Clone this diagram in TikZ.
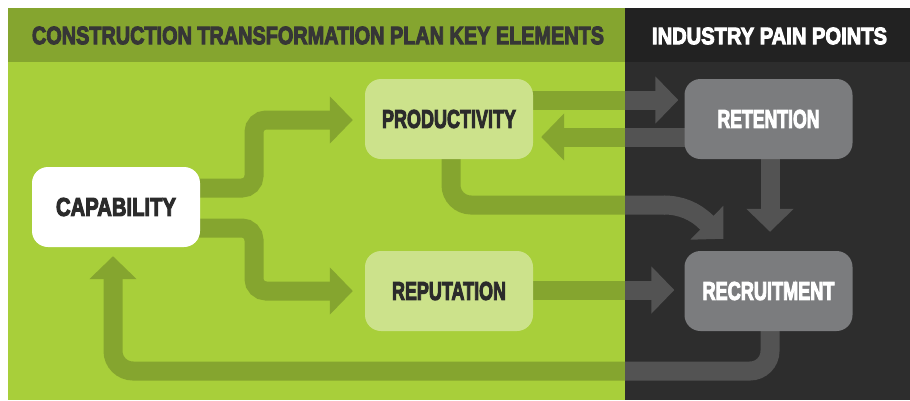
\documentclass[tikz,border=0pt]{standalone}
\usepackage{fontspec}
\usepackage{graphicx}
\newfontfamily\hfont{Liberation Sans}[FakeBold=4.5]
\usetikzlibrary{arrows.meta,calc}
\pgfdeclarelayer{back}
\pgfdeclarelayer{mid}
\pgfsetlayers{back,mid,main}
\definecolor{bggreen}{HTML}{A8CF3A}
\definecolor{hdrgreen}{HTML}{85A52F}
\definecolor{arrgreen}{HTML}{85A52F}
\definecolor{darkbg}{HTML}{2D2D2D}
\definecolor{darkhdr}{HTML}{222222}
\definecolor{arrdark}{HTML}{535353}
\definecolor{boxlight}{HTML}{CCE28B}
\definecolor{boxgray}{HTML}{7B7C7E}
\definecolor{txtdark}{HTML}{2B2B2B}
\definecolor{hdrtxt}{HTML}{363636}
\newcommand\lab[3]{\resizebox{#1pt}{#2pt}{\hfont\bfseries #3}}
\newcommand\flowpaths[1]{%
  \draw[flow,color=#1,rounded corners=12pt] ([shift={(-5,-19)}]cap.east) -| (254,120) -- ([shift={(-12,1)}]prod.west);
  \draw[flow,color=#1,rounded corners=12pt] ([shift={(-5,21)}]cap.east) -| (254,291) -- ([shift={(-12,0)}]rep.west);
  \draw[flow,color=#1] ([shift={(-5,-19)}]prod.east) -- ([shift={(-6,-19)}]ret.west);
  \draw[flow,color=#1] ([shift={(5,18)}]ret.west) -- ([shift={(8,18)}]prod.east);
  \draw[line width=19pt,color=#1,rounded corners=20pt] ([shift={(2,-5)}]prod.south) |- (665,205);
  \draw[line width=19pt,color=#1] (664,205) .. controls (680.4,205) and (695.1,211.1) .. (706,222) -- (707,223);
  \draw[flow,color=#1] (703,219) -- ([shift={(39,-12)}]rec.north west);
  \draw[flow,color=#1] ([shift={(1.5,-5)}]ret.south) -- ([shift={(1.5,-19)}]rec.north);
  \draw[flow,color=#1] ([shift={(-5,-1)}]rep.east) -- ([shift={(-10,-1)}]rec.west);
  \draw[flow,color=#1,rounded corners=20pt] ([shift={(1.5,-5)}]rec.south) |- (113,371) -- ([shift={(-3,9)}]cap.south);
}
\tikzset{
  box/.style={rounded corners=16pt, minimum width=168pt, minimum height=80pt, inner sep=0pt},
  lbox/.style={box, fill=boxlight, text=txtdark},
  gbox/.style={box, fill=boxgray, text=white},
  wbox/.style={box, fill=white, text=txtdark},
  flow/.style={line width=19pt, -{Triangle[width=46pt,length=23pt]}},
}
\begin{document}
\begin{tikzpicture}[x=1pt,y=-1pt]
\useasboundingbox (0,0) rectangle (910,400);
\begin{pgfonlayer}{back}
  \fill[white] (0,0) rectangle (910,400);
  \fill[hdrgreen] (8,8) rectangle (625,62);
  \fill[bggreen] (8,62) rectangle (625,400);
  \fill[darkhdr] (625,8) rectangle (910,62);
  \fill[darkbg] (625,62) rectangle (910,400);
\end{pgfonlayer}
\node[text=hdrtxt, inner sep=0pt] (h1) at (318,35.5) {\lab{572}{17.5}{CONSTRUCTION TRANSFORMATION PLAN KEY ELEMENTS}};
\node[text=white, inner sep=0pt] (h2) at (769.5,36) {\lab{235}{16.5}{INDUSTRY PAIN POINTS}};
\node[wbox] (cap) at (116,207) {\lab{120}{18}{CAPABILITY}};
\node[lbox] (prod) at (449,119) {\lab{134}{18}{PRODUCTIVITY}};
\node[lbox] (rep) at (449,291) {\lab{114}{18}{REPUTATION}};
\node[gbox] (ret) at (768.5,119) {\lab{102}{18}{RETENTION}};
\node[gbox] (rec) at (768.5,291) {\lab{132}{18}{RECRUITMENT}};
\begin{pgfonlayer}{mid}
  \begin{scope}
    \clip (8,62) rectangle (625,400);
    \flowpaths{arrgreen}
  \end{scope}
  \begin{scope}
    \clip (625,62) rectangle (910,400);
    \flowpaths{arrdark}
  \end{scope}
\end{pgfonlayer}
\end{tikzpicture}
\end{document}
